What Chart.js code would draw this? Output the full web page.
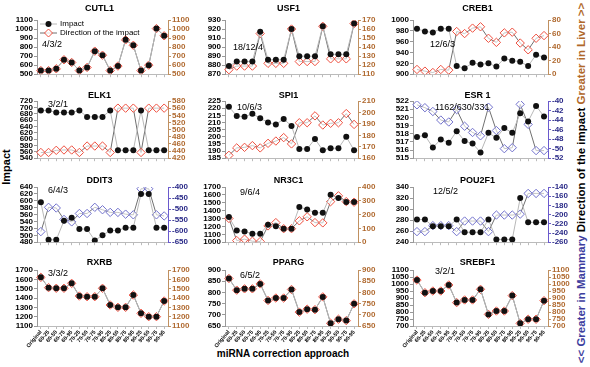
<!DOCTYPE html>
<html>
<head>
<meta charset="utf-8">
<script src="https://cdn.jsdelivr.net/npm/chart.js@4.4.1/dist/chart.umd.min.js"></script>
<style>
  body { margin: 0; background: #fff; width: 590px; height: 367px; position: relative; overflow: hidden;
         font-family: "Liberation Sans", Arial, sans-serif; }
  .panel { position: absolute; }
  .vt { position: absolute; white-space: nowrap; font-weight: bold; transform: translate(-50%, -50%) rotate(-90deg); }
</style>
</head>
<body>
<div class="vt" style="left:6px;top:167px;font-size:11px;">Impact</div>
<div class="vt" style="left:581px;top:183px;font-size:11.5px;"><span style="color:#3d3d9e">&lt;&lt; Greater in Mammary</span> Direction of the impact <span style="color:#b0682a">Greater in Liver &gt;&gt;</span></div>
<div style="position:absolute;left:283px;top:353px;transform:translate(-50%,-50%);font-size:10px;font-weight:bold;white-space:nowrap;">miRNA correction approach</div>

<script>
const categories = ['Original', '60-25', '60-50', '60-75', '60-95', '70-25', '70-50', '70-75', '70-95',
                    '80-25', '80-50', '80-75', '80-95', '90-25', '90-50', '90-75', '90-95'];

const cutl1Impact = [540, 540, 560, 660, 630, 540, 575, 755, 710, 540, 590, 880, 820, 540, 600, 1005, 925];
const cutl1Direction = [540, 540, 560, 660, 630, 540, 575, 755, 710, 540, 590, 880, 820, 540, 600, 1005, 925];

const usf1Impact = [879, 884, 884, 884, 917, 886, 886, 886, 920, 890, 890, 890, 923, 892, 892, 892, 926];
const usf1Direction = [115, 119, 119, 119, 155, 122, 122, 122, 160, 124, 124, 124, 163, 127, 127, 127, 166];

const creb1Impact = [984, 979, 977, 984, 984, 915, 911, 921, 918, 920, 914, 929, 925, 923, 915, 936, 931];
const creb1Direction = [7, 4.5, 2.5, 7, 6, 63, 60, 68, 70, 53, 47, 61, 62, 46, 36, 53, 57];

const elk1Impact = [690, 690, 684, 684, 684, 690, 670, 670, 670, 690, 565, 565, 565, 690, 565, 565, 565];
const elk1Direction = [436, 436, 442, 443, 443, 436, 454, 454, 454, 436, 560, 560, 560, 436, 560, 560, 560];

const spi1Impact = [221, 214.5, 214, 216, 213, 210, 208.5, 212.5, 207.5, 191.5, 191.5, 198.5, 190.5, 192, 192, 200, 190.5];
const spi1Direction = [162.5, 169, 169.5, 171, 169, 173, 175, 178, 172.5, 191, 191, 197, 189, 190.5, 191, 199, 189.5];

const esr1Impact = [517.6, 517.8, 516.3, 517.3, 516.9, 518.3, 517.1, 516.8, 515.7, 518.1, 517.5, 518.7, 518.1, 520.5, 519.5, 521.4, 520.1];
const esr1Direction = [-40.8, -41.4, -42.2, -44, -44.4, -41.8, -45.3, -46.6, -47.3, -41.3, -46.2, -50, -49.8, -40.7, -44.9, -50.4, -50.4];

const ddit3Impact = [596, 487, 487, 542, 551, 518, 518, 485, 500, 514, 514, 522, 522, 620, 620, 522, 522];
const ddit3Direction = [-602, -492, -495, -547, -558, -520, -520, -492, -503, -515, -515, -523, -526, -408, -408, -526, -531];

const nr3c1Impact = [1318, 1148, 1136, 1106, 1106, 1220, 1203, 1170, 1170, 1445, 1416, 1373, 1373, 1602, 1560, 1509, 1509];
const nr3c1Direction = [172, 12, 22, 7, 5, 118, 142, 98, 98, 155, 184, 142, 140, 294, 336, 294, 290];

const pou2f1Impact = [281, 281, 269, 269, 269, 281, 258, 258, 258, 281, 245, 245, 245, 320, 276, 276, 276];
const pou2f1Direction = [-237, -237, -224, -224, -224, -237, -214, -214, -214, -237, -201, -201, -201, -199, -154, -154, -154];

const rxrbImpact = [1621, 1511, 1504, 1504, 1557, 1421, 1414, 1414, 1504, 1325, 1300, 1300, 1432, 1236, 1200, 1200, 1368];
const rxrbDirection = [1621, 1511, 1504, 1504, 1557, 1421, 1414, 1414, 1504, 1325, 1300, 1300, 1432, 1236, 1200, 1200, 1368];

const ppargImpact = [862, 810, 816, 816, 838, 764, 775, 775, 813, 712, 725, 723, 780, 662, 680, 674, 749];
const ppargDirection = [862, 810, 816, 816, 838, 764, 775, 775, 813, 712, 725, 723, 780, 662, 680, 674, 749];

const srebf1Impact = [1028, 938, 950, 950, 993, 867, 886, 886, 962, 783, 807, 807, 917, 719, 748, 748, 881];
const srebf1Direction = [1028, 938, 950, 950, 993, 867, 886, 886, 962, 783, 807, 807, 917, 719, 748, 748, 881];

// left axis [min, max, step], right axis [min, max, step]
const panels = [
  { name: 'CUTL1',  note: '4/3/2',        tone: 'red',  imp: cutl1Impact,  dir: cutl1Direction,  left: [500, 1100, 100], right: [500, 1100, 100] },
  { name: 'USF1',   note: '18/12/4',      tone: 'red',  imp: usf1Impact,   dir: usf1Direction,   left: [870, 930, 10],   right: [110, 170, 10] },
  { name: 'CREB1',  note: '12/6/3',       tone: 'red',  imp: creb1Impact,  dir: creb1Direction,  left: [900, 1000, 20],  right: [0, 80, 20] },
  { name: 'ELK1',   note: '3/2/1',        tone: 'red',  imp: elk1Impact,   dir: elk1Direction,   left: [540, 720, 20],   right: [420, 580, 20] },
  { name: 'SPI1',   note: '10/6/3',       tone: 'red',  imp: spi1Impact,   dir: spi1Direction,   left: [185, 225, 5],    right: [160, 210, 10] },
  { name: 'ESR 1',  note: '1162/630/331', tone: 'blue', imp: esr1Impact,   dir: esr1Direction,   left: [515, 522, 1],    right: [-52, -40, 2] },
  { name: 'DDIT3',  note: '6/4/3',        tone: 'blue', imp: ddit3Impact,  dir: ddit3Direction,  left: [480, 640, 20],   right: [-650, -400, 50] },
  { name: 'NR3C1',  note: '9/6/4',        tone: 'red',  imp: nr3c1Impact,  dir: nr3c1Direction,  left: [1000, 1700, 100], right: [0, 400, 100] },
  { name: 'POU2F1', note: '12/5/2',       tone: 'blue', imp: pou2f1Impact, dir: pou2f1Direction, left: [240, 340, 20],   right: [-260, -140, 20] },
  { name: 'RXRB',   note: '3/3/2',        tone: 'red',  imp: rxrbImpact,   dir: rxrbDirection,   left: [1100, 1700, 100], right: [1100, 1700, 100] },
  { name: 'PPARG',  note: '6/5/2',        tone: 'red',  imp: ppargImpact,  dir: ppargDirection,  left: [650, 900, 50],   right: [650, 900, 50] },
  { name: 'SREBF1', note: '3/2/1',        tone: 'red',  imp: srebf1Impact, dir: srebf1Direction, left: [700, 1100, 50],  right: [700, 1100, 50] }
];

// layout
const cols = [{ left: 7, width: 191 }, { left: 195, width: 193 }, { left: 383, width: 195 }];
const rows = [
  { top: 0,   height: 80,  pad: 20, xh: 5,  titleY: 8.5 },
  { top: 84,  height: 80,  pad: 17, xh: 5,  titleY: 11.5 },
  { top: 168, height: 80,  pad: 19, xh: 5,  titleY: 13 },
  { top: 252, height: 102, pad: 18, xh: 28, titleY: 10.5 }
];
// page positions of the small "a/b/c" notes
const notePos = [[42, 45], [233, 48], [430, 45], [48, 105], [237, 108], [435, 108],
                 [48, 191], [240, 193], [433, 192], [48, 274], [240, 276], [435, 272]];

Chart.defaults.font.family = '"Liberation Sans", Arial, sans-serif';
Chart.defaults.color = '#000';

const FONT = '"Liberation Sans", Arial, sans-serif';

const panelText = {
  id: 'panelText',
  afterDraw(chart, args, o) {
    const { ctx, chartArea } = chart;
    ctx.save();
    ctx.fillStyle = '#000';
    ctx.textBaseline = 'middle';
    ctx.textAlign = 'center';
    ctx.font = 'bold 9px ' + FONT;
    ctx.fillText(o.title, (chartArea.left + chartArea.right) / 2 - 3, o.titleY);
    ctx.textAlign = 'left';
    ctx.font = '9px ' + FONT;
    ctx.fillText(o.note, o.noteX, o.noteY);
    if (o.legend) {
      const x0 = chartArea.left + 3;
      [[24, 'Impact', false], [33, 'Direction of the impact', true]].forEach(([y, label, dia]) => {
        ctx.strokeStyle = dia ? '#707070' : '#b8b8b8';
        ctx.lineWidth = 1;
        ctx.beginPath(); ctx.moveTo(x0, y); ctx.lineTo(x0 + 17, y); ctx.stroke();
        const cx = x0 + 8.5;
        if (dia) {
          ctx.fillStyle = 'rgba(255,255,255,0.8)';
          ctx.strokeStyle = '#ee5040';
          ctx.beginPath();
          ctx.moveTo(cx, y - 4); ctx.lineTo(cx + 4, y); ctx.lineTo(cx, y + 4); ctx.lineTo(cx - 4, y); ctx.closePath();
          ctx.fill(); ctx.stroke();
        } else {
          ctx.fillStyle = '#111';
          ctx.beginPath(); ctx.arc(cx, y, 3, 0, Math.PI * 2); ctx.fill();
        }
        ctx.fillStyle = '#000';
        ctx.font = '8px ' + FONT;
        ctx.fillText(label, x0 + 20, y);
      });
    }
    ctx.restore();
  }
};

panels.forEach((p, i) => {
  const col = cols[i % 3];
  const row = rows[Math.floor(i / 3)];
  const last = Math.floor(i / 3) === 3;
  const red = p.tone === 'red';
  const diaColor = red ? '#ee5040' : '#7272cc';
  const rAxisColor = red ? '#c09060' : '#6a5acd';
  const rLabelColor = red ? '#b06a30' : '#2a2a88';

  const div = document.createElement('div');
  div.className = 'panel';
  div.style.left = col.left + 'px';
  div.style.top = row.top + 'px';
  const canvas = document.createElement('canvas');
  canvas.width = col.width;
  canvas.height = row.height;
  div.appendChild(canvas);
  document.body.appendChild(div);

  new Chart(canvas, {
    type: 'line',
    data: {
      labels: categories,
      datasets: [
        {
          label: 'Impact',
          data: p.imp,
          yAxisID: 'y',
          borderColor: '#b8b8b8',
          borderWidth: 1,
          pointStyle: 'circle',
          pointRadius: 3,
          pointBackgroundColor: '#111',
          pointBorderColor: '#111',
          pointBorderWidth: 0
        },
        {
          label: 'Direction of the impact',
          data: p.dir,
          yAxisID: 'y1',
          borderColor: '#707070',
          borderWidth: 1,
          pointStyle: 'rectRot',
          pointRadius: 4.2,
          pointBackgroundColor: 'rgba(255,255,255,0.6)',
          pointBorderColor: diaColor,
          pointBorderWidth: 1
        }
      ]
    },
    options: {
      responsive: false,
      animation: false,
      layout: { padding: { top: row.pad, left: 0, right: 0, bottom: 0 } },
      plugins: {
        legend: { display: false },
        tooltip: { enabled: false },
        panelText: {
          title: p.name,
          titleY: row.titleY,
          note: p.note,
          noteX: notePos[i][0] - col.left,
          noteY: notePos[i][1] - row.top,
          legend: i === 0
        }
      },
      scales: {
        x: {
          offset: true,
          grid: { drawOnChartArea: false, tickLength: 3, color: '#bbb' },
          border: { color: '#bbb' },
          ticks: {
            display: last,
            autoSkip: false,
            minRotation: 50,
            maxRotation: 50,
            padding: 0,
            font: { size: 5.5, weight: 'bold' }
          },
          afterFit(s) { s.height = row.xh; }
        },
        y: {
          position: 'left',
          min: p.left[0], max: p.left[1],
          grid: { drawOnChartArea: false, tickLength: 3, color: '#999' },
          border: { color: '#999' },
          ticks: { stepSize: p.left[2], autoSkip: false, padding: 1, font: { size: 8, weight: 'bold' }, color: '#000',
                   callback: v => String(v) },
          afterFit(s) { s.width = 30; }
        },
        y1: {
          position: 'right',
          min: p.right[0], max: p.right[1],
          grid: { drawOnChartArea: false, tickLength: 3, color: rAxisColor },
          border: { color: rAxisColor },
          ticks: { stepSize: p.right[2], autoSkip: false, padding: 1, font: { size: 8, weight: 'bold' }, color: rLabelColor,
                   callback: v => String(v) },
          afterFit(s) { s.width = 30; }
        }
      }
    },
    plugins: [panelText]
  });
});
</script>
</body>
</html>
